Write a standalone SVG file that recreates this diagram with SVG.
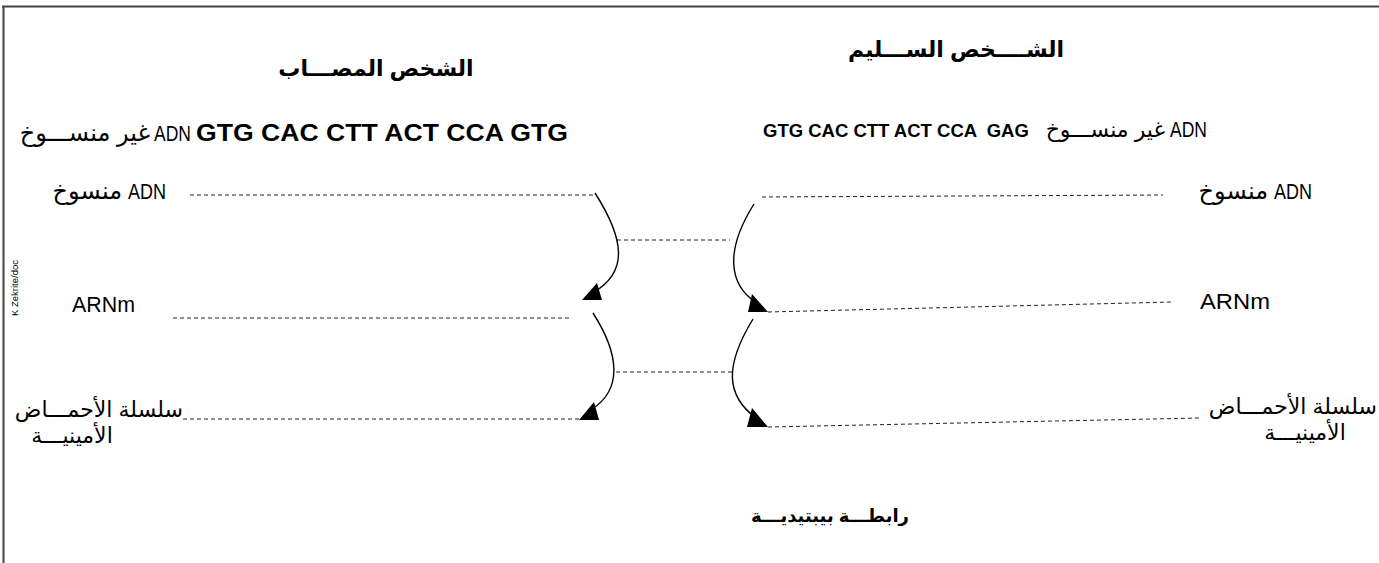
<svg xmlns="http://www.w3.org/2000/svg" width="1379" height="563" viewBox="0 0 1379 563">
<style>
  text { font-family: "Liberation Sans", "DejaVu Sans", Arial, sans-serif; fill: #000; }
  .ar { font-size: 24px; }
  .ar2 { font-size: 22px; }
  .lat { font-size: 22px; }
  .seq { font-weight: bold; white-space: pre; }
  .title { font-size: 22px; font-weight: bold; }
  .dash { stroke: #222; stroke-width: 1; stroke-dasharray: 4 3; fill: none; }
  .curve { stroke: #000; stroke-width: 1.4; fill: none; }
  .head { fill: #000; stroke: none; }
  .frame { stroke: #444; stroke-width: 2; fill: none; }
</style>
<rect x="0" y="0" width="1379" height="563" fill="#fff"/>
<g id="frame">
  <line class="frame" x1="2" y1="6.5" x2="1379" y2="6.5"/>
  <line class="frame" x1="3.5" y1="6" x2="3.5" y2="563"/>
</g>
<g id="watermark">
  <text x="0" y="0" font-size="9.5" text-anchor="middle" transform="translate(18,288) rotate(-90)">K Zekrite/doc</text>
</g>
<g id="title-sick">
  <text class="title" x="376" y="76" text-anchor="middle">الشخص المصـــاب</text>
</g>
<g id="title-healthy">
  <text class="title" x="956" y="57" text-anchor="middle">الشــــخص الســـليم</text>
</g>
<g id="sick-dna-nontemplate">
  <text class="ar" x="150" y="141" text-anchor="end">غير منســـوخ</text>
  <text class="lat" x="154" y="141" textLength="37" lengthAdjust="spacingAndGlyphs">ADN</text>
  <text class="seq" style="font-size:24px" x="196" y="141" textLength="372" lengthAdjust="spacingAndGlyphs">GTG CAC CTT ACT CCA GTG</text>
</g>
<g id="healthy-dna-nontemplate">
  <text class="seq" style="font-size:18.5px" x="763" y="137">GTG CAC CTT ACT CCA  GAG</text>
  <text class="ar" style="font-size:22px" x="1165" y="137" text-anchor="end">غير منســـوخ</text>
  <text class="lat" x="1170" y="137" textLength="37" lengthAdjust="spacingAndGlyphs">ADN</text>
</g>
<g id="sick-dna-template">
  <text class="ar" x="122" y="199" text-anchor="end">منسوخ</text>
  <text class="lat" x="128" y="199" textLength="38" lengthAdjust="spacingAndGlyphs">ADN</text>
</g>
<g id="healthy-dna-template">
  <text class="ar" x="1268" y="199" text-anchor="end">منسوخ</text>
  <text class="lat" x="1274" y="199" textLength="38" lengthAdjust="spacingAndGlyphs">ADN</text>
</g>
<g id="sick-arnm">
  <text class="lat" x="72" y="312" textLength="63" lengthAdjust="spacingAndGlyphs">ARNm</text>
</g>
<g id="healthy-arnm">
  <text class="lat" x="1200" y="309" textLength="70" lengthAdjust="spacingAndGlyphs">ARNm</text>
</g>
<g id="sick-protein">
  <text class="ar2" x="183" y="417" text-anchor="end">سلسلة الأحمـــاض</text>
  <text class="ar2" x="72" y="443" text-anchor="middle">الأمينيـــة</text>
</g>
<g id="healthy-protein">
  <text class="ar2" x="1377" y="414" text-anchor="end">سلسلة الأحمـــاض</text>
  <text class="ar2" x="1305" y="440" text-anchor="middle">الأمينيـــة</text>
</g>
<g id="peptide-bond">
  <text class="title" style="font-size:18px" x="830" y="522" text-anchor="middle">رابطـــة بيبتيديـــة</text>
</g>
<g id="connectors">
  <line class="dash" x1="190" y1="195" x2="597" y2="195"/>
  <line class="dash" x1="617" y1="240" x2="730" y2="240"/>
  <line class="dash" x1="762" y1="197" x2="1163" y2="195"/>
  <line class="dash" x1="173" y1="318" x2="572" y2="318"/>
  <line class="dash" x1="768" y1="312" x2="1172" y2="302"/>
  <line class="dash" x1="616" y1="372" x2="732" y2="372"/>
  <line class="dash" x1="183" y1="419" x2="579" y2="419"/>
  <line class="dash" x1="768" y1="427" x2="1200" y2="418"/>
  <path class="curve" d="M595,193 C625,240 628,272 594,292"/>
  <polygon class="head" points="582,300 602,300 597,283"/>
  <path class="curve" d="M754,204 C725,250 728,285 757,303"/>
  <polygon class="head" points="748,312 768,312 752,294"/>
  <path class="curve" d="M593,313 C620,355 622,390 592,409"/>
  <polygon class="head" points="579,420 599,420 594,402"/>
  <path class="curve" d="M753,319 C725,365 725,395 756,418"/>
  <polygon class="head" points="747,427 768,427 752,408"/>
</g>
</svg>
